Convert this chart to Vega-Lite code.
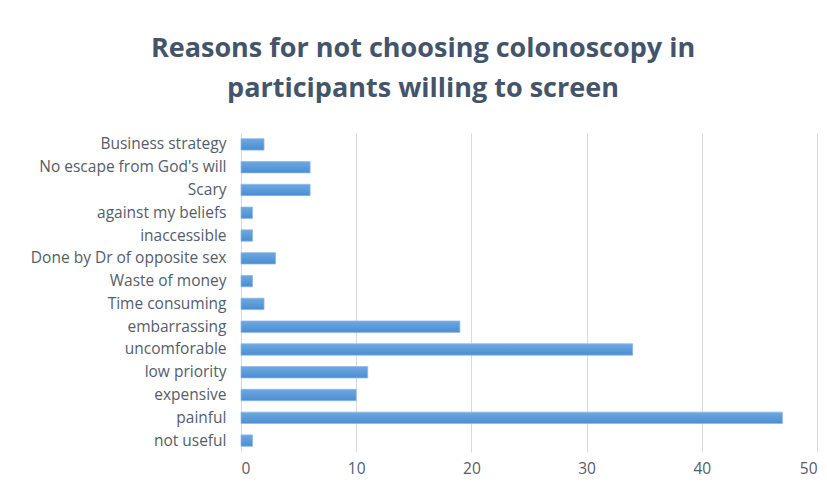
{
  "$schema": "https://vega.github.io/schema/vega-lite/v6.json",
  "width": 576,
  "height": 319,
  "autosize": {"type": "none"},
  "padding": {"left": 241, "top": 133, "right": 10, "bottom": 35},
  "background": "white",
  "title": {
    "text": ["Reasons for not choosing colonoscopy in", "participants willing to screen"],
    "font": "Open Sans",
    "fontSize": 27,
    "fontWeight": "bold",
    "color": "#44546A",
    "anchor": "middle",
    "frame": "group",
    "dx": -106,
    "offset": 30,
    "lineHeight": 40
  },
  "data": {
    "values": [
      {"reason": "Business strategy", "count": 2},
      {"reason": "No escape from God's will", "count": 6},
      {"reason": "Scary ", "count": 6},
      {"reason": "against my beliefs", "count": 1},
      {"reason": "inaccessible", "count": 1},
      {"reason": "Done by Dr of opposite sex", "count": 3},
      {"reason": "Waste of money", "count": 1},
      {"reason": "Time consuming", "count": 2},
      {"reason": "embarrassing", "count": 19},
      {"reason": "uncomforable", "count": 34},
      {"reason": "low priority", "count": 11},
      {"reason": "expensive ", "count": 10},
      {"reason": "painful", "count": 47},
      {"reason": "not useful", "count": 1}
    ]
  },
  "mark": {
    "type": "bar",
    "fill": {
      "gradient": "linear",
      "x1": 0, "y1": 0, "x2": 0, "y2": 1,
      "stops": [
        {"offset": 0, "color": "#6EA8E0"},
        {"offset": 1, "color": "#4A8DD2"}
      ]
    },
    "stroke": "#8CBAE6",
    "strokeWidth": 0.75
  },
  "encoding": {
    "y": {
      "field": "reason",
      "type": "nominal",
      "sort": null,
      "scale": {"paddingInner": 0.5, "paddingOuter": 0.25},
      "axis": {
        "title": null,
        "ticks": false,
        "domain": false,
        "labelFont": "Open Sans",
        "labelFontSize": 15.5,
        "labelColor": "#555D6A",
        "labelPadding": 15,
        "labelLimit": 300
      }
    },
    "x": {
      "field": "count",
      "type": "quantitative",
      "scale": {"domain": [0, 50], "nice": false},
      "axis": {
        "title": null,
        "values": [0, 10, 20, 30, 40, 50],
        "ticks": false,
        "domain": false,
        "grid": true,
        "gridColor": "#D9D9D9",
        "gridWidth": 1,
        "labelFont": "Open Sans",
        "labelFontSize": 15.5,
        "labelColor": "#555D6A",
        "labelPadding": 9
      }
    }
  },
  "config": {"view": {"stroke": null}}
}
